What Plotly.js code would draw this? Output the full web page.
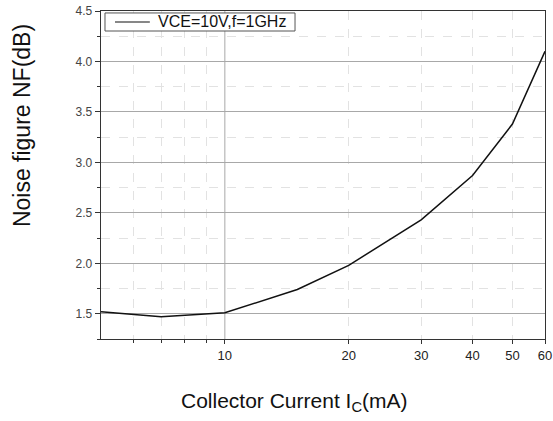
<!DOCTYPE html>
<html>
<head>
<meta charset="utf-8">
<script src="https://cdn.plot.ly/plotly-3.0.1.min.js"></script>
<style>
  html, body { margin: 0; padding: 0; background: #fff; }
  #chart { width: 553px; height: 421px; }
</style>
</head>
<body>
<div id="chart"></div>
<script>
// Collector current (mA) and measured noise figure (dB)
const collectorCurrent = [5, 7, 10, 15, 20, 30, 40, 50, 60];
const noiseFigure = [1.52, 1.47, 1.51, 1.74, 1.98, 2.43, 2.87, 3.38, 4.10];
const seriesName = 'VCE=10V,f=1GHz';

// Axis ticks
const xTickVals = [10, 20, 30, 40, 50, 60];
const xTickText = ['10', '20', '30', '40', '50', '60'];
const xMinorVals = [6, 7, 8, 9, 20, 30, 40, 50];
const xSolidGrid = [10];

const FONT = 'Arial, "Liberation Sans", sans-serif';
const LINE_COLOR = '#111';

const trace = {
  x: collectorCurrent,
  y: noiseFigure,
  type: 'scatter',
  mode: 'lines',
  name: seriesName,
  line: { color: LINE_COLOR, width: 1.5 },
  showlegend: false
};

// Solid decade gridline(s) on the log axis
const shapes = xSolidGrid.map(v => ({
  type: 'line', xref: 'x', yref: 'paper',
  x0: v, x1: v, y0: 0, y1: 1,
  line: { color: '#a8a8a8', width: 1 },
  layer: 'below'
}));

// Boxed legend in the upper-left corner
shapes.push(
  {
    type: 'rect', xref: 'paper', yref: 'paper',
    x0: 0.009, x1: 0.437, y0: 0.939, y1: 0.994,
    line: { color: '#555', width: 1 }, fillcolor: '#fff', layer: 'above'
  },
  {
    type: 'line', xref: 'paper', yref: 'paper',
    x0: 0.0315, x1: 0.110, y0: 0.9665, y1: 0.9665,
    line: { color: LINE_COLOR, width: 1.2 }, layer: 'above'
  }
);

const layout = {
  width: 553,
  height: 421,
  margin: { l: 101, r: 8, t: 11, b: 82 },
  paper_bgcolor: '#fff',
  plot_bgcolor: '#fff',
  font: { family: FONT, color: '#222' },
  showlegend: false,
  xaxis: {
    type: 'log',
    range: [Math.log10(5), Math.log10(60)],
    tickmode: 'array',
    tickvals: xTickVals,
    ticktext: xTickText,
    tickfont: { family: FONT, size: 13, color: '#222' },
    showgrid: false,
    zeroline: false,
    ticks: 'outside', ticklen: 4, tickcolor: '#333',
    showline: true, linecolor: '#333', linewidth: 1.3, mirror: true,
    minor: {
      tickmode: 'array', tickvals: xMinorVals,
      ticks: 'outside', ticklen: 3, tickcolor: '#333',
      showgrid: true, gridcolor: '#e2e2e2', griddash: 'dash', gridwidth: 1
    }
  },
  yaxis: {
    range: [1.25, 4.5],
    tick0: 0, dtick: 0.5,
    tickformat: '.1f',
    tickfont: { family: FONT, size: 12, color: '#444' },
    showgrid: true, gridcolor: '#a8a8a8', gridwidth: 1,
    zeroline: false,
    ticks: 'outside', ticklen: 5, tickcolor: '#333',
    showline: true, linecolor: '#333', linewidth: 1.3, mirror: true,
    minor: {
      dtick: 0.25,
      ticks: 'outside', ticklen: 3, tickcolor: '#333',
      showgrid: true, gridcolor: '#e2e2e2', griddash: 'dash', gridwidth: 1
    }
  },
  shapes: shapes,
  annotations: [
    {
      text: seriesName,
      xref: 'paper', yref: 'paper',
      x: 0.124, y: 0.9665, xanchor: 'left', yanchor: 'middle',
      showarrow: false,
      font: { family: FONT, size: 16, color: '#111' }
    },
    {
      text: 'Noise figure NF(dB)',
      xref: 'paper', yref: 'paper',
      x: -0.178, y: 0.652, xanchor: 'center', yanchor: 'middle',
      textangle: -90, showarrow: false,
      font: { family: FONT, size: 23, color: '#111' }
    },
    {
      text: 'Collector Current I<sub>C</sub>(mA)',
      xref: 'paper', yref: 'paper',
      x: 0.435, y: -0.192, xanchor: 'center', yanchor: 'middle',
      showarrow: false,
      font: { family: FONT, size: 21, color: '#111' }
    }
  ]
};

Plotly.newPlot('chart', [trace], layout, { staticPlot: true, displayModeBar: false });
</script>
</body>
</html>
